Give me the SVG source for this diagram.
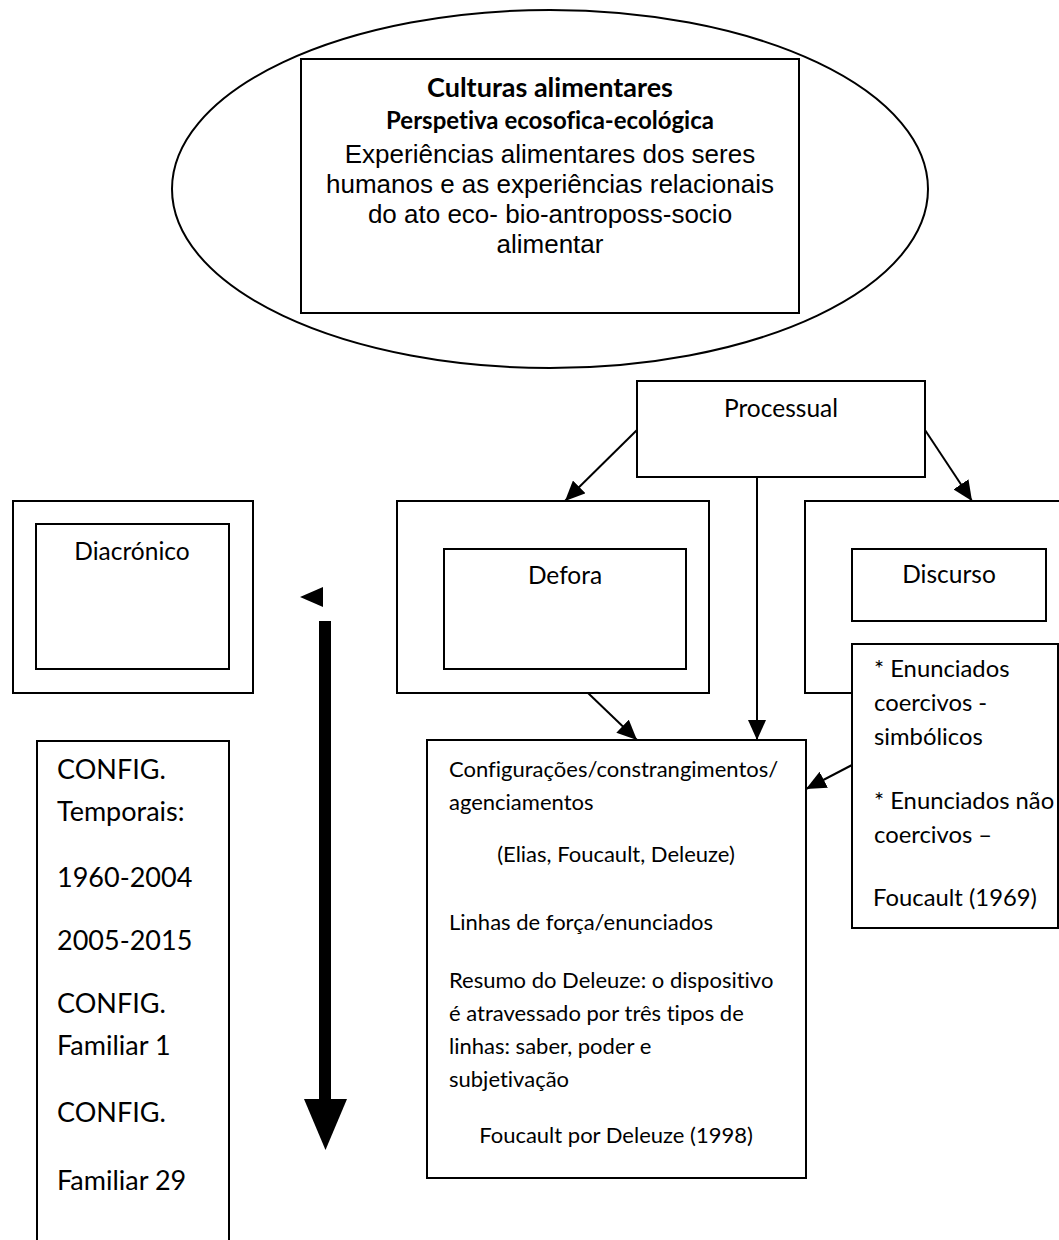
<svg xmlns="http://www.w3.org/2000/svg" width="1059" height="1240" viewBox="0 0 1059 1240">
<defs>
<marker id="ah" viewBox="0 0 20 18" refX="20" refY="9" markerWidth="20" markerHeight="18" markerUnits="userSpaceOnUse" orient="auto"><path d="M0,0 L20,9 L0,18 Z" fill="#000"/></marker>
</defs>
<style>
.box{fill:#fff;stroke:#000;stroke-width:2}
.ln{fill:none;stroke:#000;stroke-width:2;marker-end:url(#ah)}
.c{font-family:Lato,"Open Sans",sans-serif;fill:#000;font-variant-ligatures:none}
.lbl{font-size:24.5px;text-anchor:middle}
.cb{font-size:22px}
.en{font-size:23.8px}
.lc{font-size:27px}
.ar{font-family:"Liberation Sans",Arial,sans-serif;font-size:26px;text-anchor:middle;fill:#000}
.bd{font-weight:bold;text-anchor:middle}
</style>
<rect width="1059" height="1240" fill="#fff"/>

<g id="culturas">
<ellipse cx="550" cy="189" rx="378" ry="179" fill="#fff" stroke="#000" stroke-width="2"/>
<rect class="box" x="301" y="59" width="498" height="254"/>
<text class="c bd" x="550" y="97" font-size="27px">Culturas alimentares</text>
<text class="c bd" x="550" y="129" font-size="24px">Perspetiva ecosofica-ecológica</text>
<text class="ar" x="550" y="163">Experiências alimentares dos seres</text>
<text class="ar" x="550" y="193">humanos e as experiências relacionais</text>
<text class="ar" x="550" y="223">do ato eco- bio-antroposs-socio</text>
<text class="ar" x="550" y="253">alimentar</text>
</g>

<g id="processual">
<rect class="box" x="637" y="381" width="288" height="96"/>
<text class="c lbl" x="781" y="417">Processual</text>
</g>

<g id="diacronico">
<rect class="box" x="13" y="501" width="240" height="192"/>
<rect class="box" x="36" y="524" width="193" height="145"/>
<text class="c lbl" x="132" y="560">Diacrónico</text>
</g>

<g id="defora">
<rect class="box" x="397" y="501" width="312" height="192"/>
<rect class="box" x="444" y="549" width="242" height="120"/>
<text class="c lbl" x="565" y="584">Defora</text>
</g>

<g id="discurso">
<rect class="box" x="805" y="501" width="270" height="192"/>
<rect class="box" x="852" y="549" width="194" height="72"/>
<text class="c lbl" x="949" y="583">Discurso</text>
</g>

<g id="enunciados">
<rect class="box" x="852" y="644" width="206" height="284"/>
<text class="c en" x="874" y="677">* Enunciados</text>
<text class="c en" x="874" y="711">coercivos -</text>
<text class="c en" x="874" y="745">simbólicos</text>
<text class="c en" x="874" y="809">* Enunciados não</text>
<text class="c en" x="874" y="843">coercivos –</text>
<text class="c en" x="955" y="906" text-anchor="middle">Foucault (1969)</text>
</g>

<g id="configuracoes">
<rect class="box" x="427" y="740" width="379" height="438"/>
<text class="c cb" x="449" y="777">Configurações/constrangimentos/</text>
<text class="c cb" x="449" y="810">agenciamentos</text>
<text class="c cb" x="616" y="862" text-anchor="middle">(Elias, Foucault, Deleuze)</text>
<text class="c cb" x="449" y="930">Linhas de força/enunciados</text>
<text class="c cb" x="449" y="988">Resumo do Deleuze: o dispositivo</text>
<text class="c cb" x="449" y="1021">é atravessado por três tipos de</text>
<text class="c cb" x="449" y="1054">linhas: saber, poder e</text>
<text class="c cb" x="449" y="1087">subjetivação</text>
<text class="c cb" x="616" y="1143" text-anchor="middle">Foucault por Deleuze (1998)</text>
</g>

<g id="config-temporais">
<rect class="box" x="37" y="741" width="192" height="520"/>
<text class="c lc" x="57" y="779">CONFIG.</text>
<text class="c lc" x="57" y="821">Temporais:</text>
<text class="c lc" x="57" y="887">1960-2004</text>
<text class="c lc" x="57" y="950">2005-2015</text>
<text class="c lc" x="57" y="1013">CONFIG.</text>
<text class="c lc" x="57" y="1055">Familiar 1</text>
<text class="c lc" x="57" y="1122">CONFIG.</text>
<text class="c lc" x="57" y="1190">Familiar 29</text>
</g>

<g id="connectors">
<line class="ln" x1="637" y1="430" x2="565" y2="501"/>
<line class="ln" x1="925" y1="430" x2="972" y2="501"/>
<line class="ln" x1="757" y1="477" x2="757" y2="740"/>
<line class="ln" x1="588" y1="693" x2="637" y2="740"/>
<line class="ln" x1="852" y1="765" x2="806" y2="789"/>
<polygon points="300,597 323,587 323,607" fill="#000"/>
<rect x="319" y="621" width="12" height="480" fill="#000"/>
<polygon points="304,1099 347,1099 325.5,1150" fill="#000"/>
</g>
</svg>
